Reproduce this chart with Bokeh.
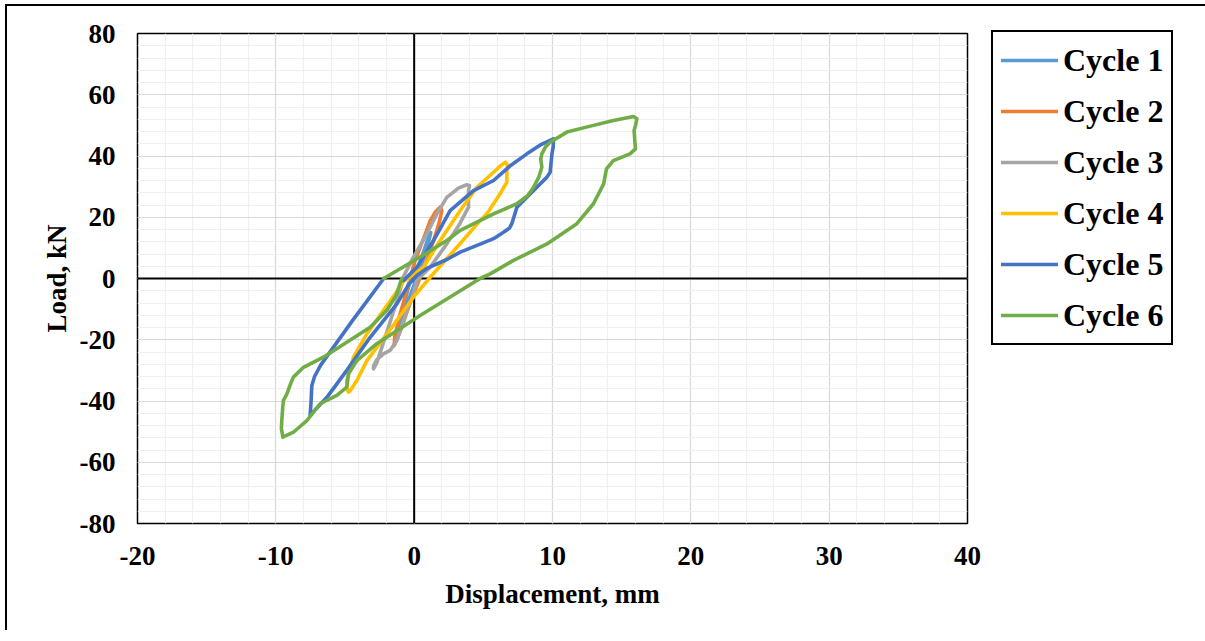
from bokeh.plotting import figure
from bokeh.models import Legend, LegendItem, Span, FixedTicker
from bokeh.layouts import column
from bokeh.embed import file_html
from bokeh.resources import INLINE

# ---- data (displacement mm, load kN) ----
cycle1_x = [0.0, 0.3, 0.7, 1.0, 1.2, 1.1, 0.8, 0.4, 0.0, -0.4, -0.8, -1.1, -1.1, -0.9, -0.6, -0.3]
cycle1_y = [0.0, 4.0, 9.0, 13.0, 15.0, 13.0, 8.0, 3.0, -2.0, -7.0, -12.0, -16.0, -17.0, -12.0, -6.0, -1.0]

cycle2_x = [-0.3, 0.07, 0.43, 0.8, 1.16, 1.55, 1.88, 2.0, 1.85, 1.64, 1.3, 1.0, 0.4, -0.3, -0.9, -1.3, -1.45, -1.4, -1.1, -0.6, -0.4]
cycle2_y = [0.0, 5.9, 10.2, 14.5, 18.9, 21.8, 23.3, 22.2, 19.0, 15.7, 11.0, 7.0, 0.0, -8.0, -16.0, -20.5, -22.0, -19.0, -13.0, -5.0, -1.5]

cycle3_x = [-0.9, -0.05, 0.92, 1.64, 2.36, 3.2, 3.8, 4.0, 3.93, 3.93, 3.3, 2.36, 1.16, 0.2, -0.05, -0.77, -1.25, -1.74, -2.22, -2.7, -2.94, -2.94, -2.7, -2.3, -1.8, -1.3, -0.9]
cycle3_y = [-0.5, 7.0, 14.6, 21.1, 26.5, 29.5, 30.6, 30.4, 28.7, 23.3, 17.9, 11.3, 3.7, -0.6, -5.0, -13.7, -20.2, -23.5, -24.6, -26.5, -28.5, -29.5, -27.5, -22.0, -15.0, -8.0, -2.0]

cycle4_x = [-0.8, 0.67, 1.88, 3.33, 4.53, 5.74, 6.3, 6.6, 6.75, 6.7, 6.7, 6.2, 5.26, 4.77, 3.09, 1.16, -0.05, -1.7, -3.42, -4.14, -4.6, -4.75, -4.87, -4.87, -4.39, -3.42, -2.22, -1.01, -0.77]
cycle4_y = [-1.0, 3.7, 12.4, 22.2, 29.8, 34.7, 37.0, 38.0, 37.0, 35.3, 31.5, 27.6, 21.1, 18.9, 10.2, 0.4, -6.1, -16.5, -26.8, -33.3, -36.5, -37.1, -35.5, -33.3, -25.7, -18.1, -10.4, -2.8, -0.65]

cycle5_x = [-0.77, 0.2, 1.4, 2.6, 4.29, 5.74, 7.0, 8.15, 9.2, 10.07, 10.05, 9.96, 9.83, 9.6, 8.87, 7.43, 7.06, 6.9, 6.46, 5.74, 4.77, 3.33, 2.36, 0.92, 0.2, -0.4, -1.25, -3.18, -4.87, -6.31, -7.52, -7.45, -7.4, -7.2, -6.76, -4.5, -2.2]
cycle5_y = [-0.65, 3.7, 12.4, 22.2, 28.7, 32.0, 37.0, 40.7, 43.8, 45.6, 43.0, 40.7, 34.7, 33.1, 29.8, 23.3, 17.9, 16.5, 15.1, 13.0, 11.2, 8.6, 6.2, 3.3, 1.0, -2.0, -8.3, -19.2, -30.0, -38.8, -44.7, -40.0, -35.0, -32.0, -28.3, -14.0, 0.0]

cycle6_x = [-2.2, 0.43, 2.36, 3.33, 5.74, 7.43, 8.2, 8.63, 9.0, 9.23, 9.15, 9.23, 9.5, 9.83, 11.04, 12.96, 14.4, 15.86, 16.1, 16.0, 15.9, 15.95, 16.0, 15.6, 14.4, 13.9, 13.7, 12.96, 11.76, 9.6, 7.18, 5.5, 4.77, 0.43, -2.7, -4.14, -4.75, -4.87, -5.59, -6.8, -7.76, -8.73, -9.49, -9.6, -9.57, -9.5, -9.45, -9.2, -8.9, -8.73, -8.0, -6.56, -4.87, -3.18, -1.97, -1.3, -0.9]
cycle6_y = [0.0, 7.0, 12.4, 15.7, 21.1, 24.4, 27.0, 29.8, 33.0, 36.3, 39.0, 40.7, 43.0, 44.5, 47.8, 50.0, 51.6, 52.9, 52.2, 50.0, 48.3, 45.0, 42.3, 40.7, 38.5, 35.8, 30.9, 24.4, 17.9, 11.3, 5.9, 1.5, 0.0, -12.1, -21.3, -26.8, -31.1, -35.5, -38.2, -40.9, -46.4, -50.2, -51.8, -49.0, -46.4, -42.0, -39.8, -37.7, -34.0, -32.2, -29.0, -25.7, -20.8, -15.9, -10.4, -5.5, 0.0]

series_names = ["Cycle 1", "Cycle 2", "Cycle 3", "Cycle 4", "Cycle 5", "Cycle 6"]
series_colors = ["#5B9BD5", "#ED7D31", "#A5A5A5", "#FFC000", "#4472C4", "#70AD47"]
x_ticks = [-20, -10, 0, 10, 20, 30, 40]
y_ticks = [-80, -60, -40, -20, 0, 20, 40, 60, 80]
x_tick_labels = ["-20", "-10", "0", "10", "20", "30", "40"]
y_tick_labels = ["-80", "-60", "-40", "-20", "0", "20", "40", "60", "80"]

FONT = "Liberation Serif"

p = figure(frame_width=830, frame_height=490, x_range=(-20, 40), y_range=(-80, 80),
           output_backend="svg", toolbar_location=None,
           min_border_left=130, min_border_top=27, min_border_right=0, min_border_bottom=107,
           x_axis_label="Displacement, mm", y_axis_label="Load, kN")

p.background_fill_color = "white"
p.border_fill_color = "white"
p.outline_line_color = "black"
p.outline_line_width = 1.5

p.xaxis.ticker = FixedTicker(ticks=x_ticks, minor_ticks=list(range(-20, 41, 2)))
p.yaxis.ticker = FixedTicker(ticks=y_ticks, minor_ticks=list(range(-80, 81, 4)))
p.xaxis.major_label_overrides = {t: s for t, s in zip(x_ticks, x_tick_labels)}
p.yaxis.major_label_overrides = {t: s for t, s in zip(y_ticks, y_tick_labels)}

for g in (p.xgrid, p.ygrid):
    g.grid_line_color = "#D9D9D9"
    g.grid_line_width = 1.2
    g.minor_grid_line_color = "#F0F0F0"
    g.minor_grid_line_width = 1.2

for ax in (p.xaxis, p.yaxis):
    ax.axis_line_color = None
    ax.major_tick_line_color = None
    ax.minor_tick_line_color = None
    ax.major_label_text_font = FONT
    ax.major_label_text_font_style = "bold"
    ax.major_label_text_font_size = "27px"
    ax.major_label_text_color = "black"
    ax.axis_label_text_font = FONT
    ax.axis_label_text_font_style = "bold"
    ax.axis_label_text_font_size = "27px"
    ax.axis_label_text_color = "black"

p.xaxis.major_label_standoff = 17
p.xaxis.axis_label_standoff = 11
p.yaxis.major_label_standoff = 16
p.yaxis.axis_label_standoff = 5

p.add_layout(Span(location=0, dimension="width", line_color="black", line_width=2, level="underlay"))
p.add_layout(Span(location=0, dimension="height", line_color="black", line_width=2, level="underlay"))

xs = [cycle1_x, cycle2_x, cycle3_x, cycle4_x, cycle5_x, cycle6_x]
ys = [cycle1_y, cycle2_y, cycle3_y, cycle4_y, cycle5_y, cycle6_y]
items = []
for name, color, x, y in zip(series_names, series_colors, xs, ys):
    r = p.line(x, y, line_color=color, line_width=3.6, line_join="round", line_cap="round")
    items.append(LegendItem(label=name, renderers=[r]))

legend = Legend(items=items, location=(24, 178), margin=0, padding=8,
                glyph_width=57, glyph_height=40, label_height=40, spacing=11,
                label_standoff=5, label_text_font=FONT, label_text_font_style="bold",
                label_text_font_size="32px", label_text_color="black",
                border_line_color="black", border_line_width=2, border_line_alpha=1.0,
                background_fill_color="white", background_fill_alpha=1.0)
p.add_layout(legend, "right")

layout = column(p, styles={"border-left": "2px solid black", "border-top": "2px solid black",
                           "border-right": "2px solid black",
                           "margin-left": "5px", "margin-top": "4px"})

open("out.html", "w").write(file_html(layout, INLINE))
